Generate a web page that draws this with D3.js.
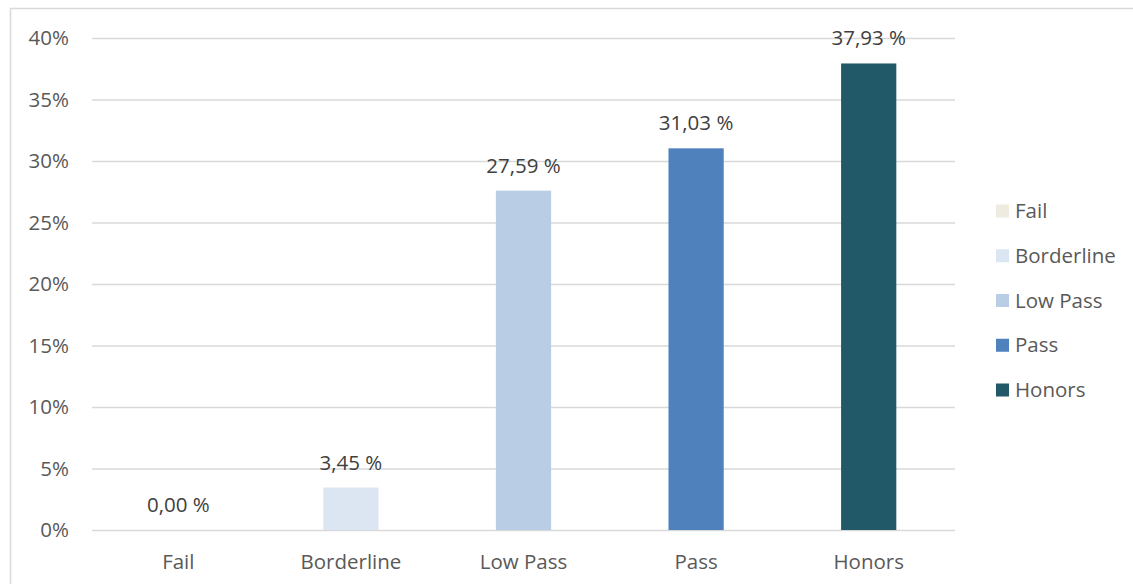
<!DOCTYPE html>
<html>
<head>
<meta charset="utf-8">
<script src="https://cdn.jsdelivr.net/npm/d3@7"></script>
<style>
  html, body { margin: 0; padding: 0; background: #fff; }
  svg { display: block; font-family: "Open Sans", "Liberation Sans", sans-serif; }
</style>
</head>
<body>
<svg id="chart" width="1133" height="584"></svg>
<script>
const categories = ["Fail", "Borderline", "Low Pass", "Pass", "Honors"];
const values = [0.00, 3.45, 27.59, 31.03, 37.93];
const colors = ["#EEECE1", "#DCE6F2", "#B9CDE5", "#4F81BD", "#215968"];
const yTicks = [0, 5, 10, 15, 20, 25, 30, 35, 40];

const svg = d3.select("#chart");
const W = 1133, H = 584;
const FS = "20.5px";

// outer chart border
svg.append("rect")
  .attr("x", 10.5).attr("y", 8.5)
  .attr("width", W + 20).attr("height", H + 20)
  .attr("fill", "none").attr("stroke", "#D9D9D9").attr("stroke-width", 1.5);

const plot = { left: 92, right: 955, top: 38, bottom: 530 };

const x = d3.scaleBand().domain(categories).range([plot.left, plot.right]).paddingInner(0).paddingOuter(0);
const y = d3.scaleLinear().domain([0, 40]).range([plot.bottom, plot.top]);

// gridlines
const yAxis = d3.axisLeft(y).tickValues(yTicks).tickSize(-(plot.right - plot.left)).tickFormat(d => d + "%").tickPadding(23);
const gY = svg.append("g").attr("transform", `translate(${plot.left},0)`).call(yAxis);
gY.select(".domain").remove();
gY.selectAll(".tick line").attr("stroke", "#D9D9D9").attr("stroke-width", 1.5);
gY.selectAll(".tick text").attr("fill", "#595959").style("font-size", FS)
  .style("font-family", '"Open Sans", sans-serif');

// x axis labels
const xAxis = d3.axisBottom(x).tickSize(0).tickPadding(24);
const gX = svg.append("g").attr("transform", `translate(0,${plot.bottom})`).call(xAxis);
gX.select(".domain").remove();
gX.selectAll(".tick text").attr("fill", "#595959").style("font-size", FS)
  .style("font-family", '"Open Sans", sans-serif');

// bars
const bw = x.bandwidth() * 0.32;
svg.append("g").selectAll("rect")
  .data(categories.map((c, i) => ({ c, v: values[i], col: colors[i] })))
  .join("rect")
  .attr("x", d => x(d.c) + x.bandwidth() / 2 - bw / 2)
  .attr("y", d => y(d.v))
  .attr("width", bw)
  .attr("height", d => y(0) - y(d.v))
  .attr("fill", d => d.col);

// value labels
svg.append("g").selectAll("text")
  .data(categories.map((c, i) => ({ c, v: values[i] })))
  .join("text")
  .attr("x", d => x(d.c) + x.bandwidth() / 2)
  .attr("y", d => y(d.v) - 18)
  .attr("text-anchor", "middle")
  .attr("fill", "#404040")
  .style("font-size", FS)
  .text(d => d.v.toFixed(2).replace(".", ",") + " %");

// legend
const legY = d3.scalePoint().domain(categories).range([211, 390]);
const leg = svg.append("g").selectAll("g")
  .data(categories.map((c, i) => ({ c, col: colors[i] })))
  .join("g")
  .attr("transform", d => `translate(996,${legY(d.c)})`);
leg.append("rect").attr("x", 0).attr("y", -6.5).attr("width", 13).attr("height", 13).attr("fill", d => d.col);
leg.append("text").attr("x", 19).attr("y", 0).attr("dy", "0.35em")
  .attr("fill", "#595959").style("font-size", FS).text(d => d.c);
</script>
</body>
</html>
